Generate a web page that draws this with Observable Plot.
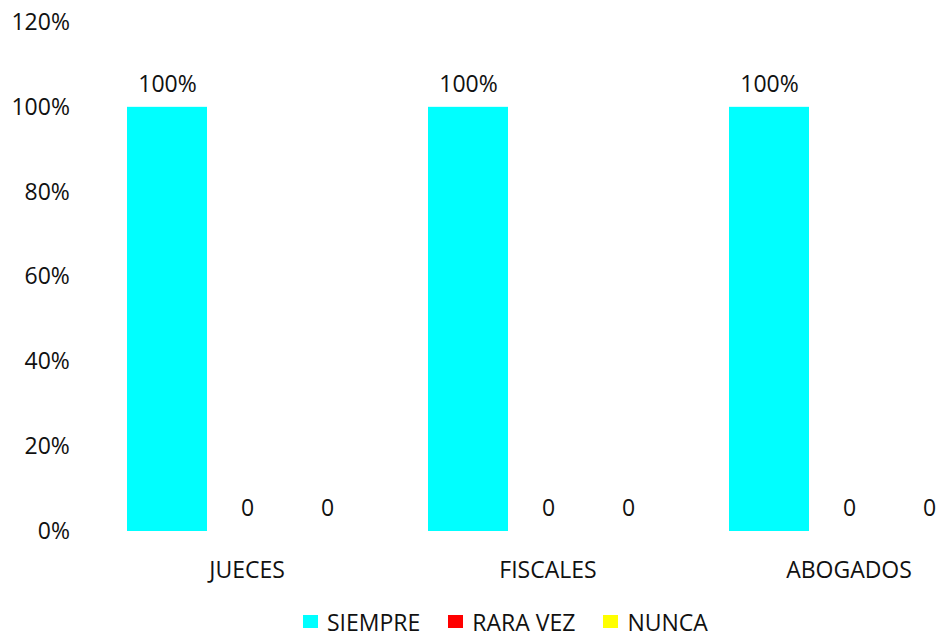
<!DOCTYPE html>
<html>
<head>
<meta charset="utf-8">
<script src="https://cdn.jsdelivr.net/npm/d3@7"></script>
<script src="https://cdn.jsdelivr.net/npm/@observablehq/plot@0.6"></script>
<style>
  html, body { margin: 0; padding: 0; background: #fff; }
  #legend { display: flex; align-items: center; height: 31px; margin-top: 10px; padding-left: 303px;
            font-family: "Open Sans", sans-serif; font-size: 23px; color: #111; }
  #legend .item { display: flex; align-items: center; margin-right: 28px; }
  #legend .sw { width: 15px; height: 13px; margin-right: 9px; }
</style>
</head>
<body>
<div id="chart"></div>
<div id="legend"></div>
<script>
const groups = ["JUECES", "FISCALES", "ABOGADOS"];
const series = ["SIEMPRE", "RARA VEZ", "NUNCA"];
const siempre = [1, 1, 1];
const raraVez = [0, 0, 0];
const nunca = [0, 0, 0];
const colors = ["#00FFFF", "#FF0000", "#FFFF00"];
const yTicks = [0, 0.2, 0.4, 0.6, 0.8, 1.0, 1.2];

const seriesValues = [siempre, raraVez, nunca];
const data = [];
groups.forEach((g, i) => {
  series.forEach((s, j) => {
    data.push({group: g, series: s, value: seriesValues[j][i]});
  });
});

const font = "'Open Sans', sans-serif";
const plot = Plot.plot({
  width: 939,
  height: 596,
  marginTop: 22,
  marginBottom: 65,
  marginLeft: 96,
  marginRight: 0,
  style: {fontFamily: font, fontSize: "23px", color: "#111", background: "#fff"},
  fx: {domain: groups, range: [95.5, 998.5], paddingInner: 0.2, paddingOuter: 0.1, label: null},
  x: {domain: series, padding: 0, axis: null},
  y: {domain: [0, 1.2], label: null},
  color: {domain: series, range: colors},
  marks: [
    Plot.axisY({ticks: yTicks, tickFormat: d3.format(".0%"), tickSize: 0, tickPadding: 56.6, fontSize: 23, label: null}),
    Plot.axisFx({anchor: "bottom", tickSize: 0, tickPadding: 30, fontSize: 23, label: null}),
    Plot.barY(data, {fx: "group", x: "series", y: "value", fill: "series"}),
    Plot.text(data, {fx: "group", x: "series", y: "value",
      text: d => d.value === 0 ? "0" : d3.format(".0%")(d.value),
      dy: -23, fontSize: 23, fill: "#111"})
  ]
});
document.getElementById("chart").appendChild(plot);

const color = plot.scale("color");
const legend = document.getElementById("legend");
color.domain.forEach((s, i) => {
  const item = document.createElement("div");
  item.className = "item";
  const sw = document.createElement("div");
  sw.className = "sw";
  sw.style.background = color.range[i];
  const t = document.createElement("span");
  t.textContent = s;
  item.appendChild(sw);
  item.appendChild(t);
  legend.appendChild(item);
});
</script>
</body>
</html>
